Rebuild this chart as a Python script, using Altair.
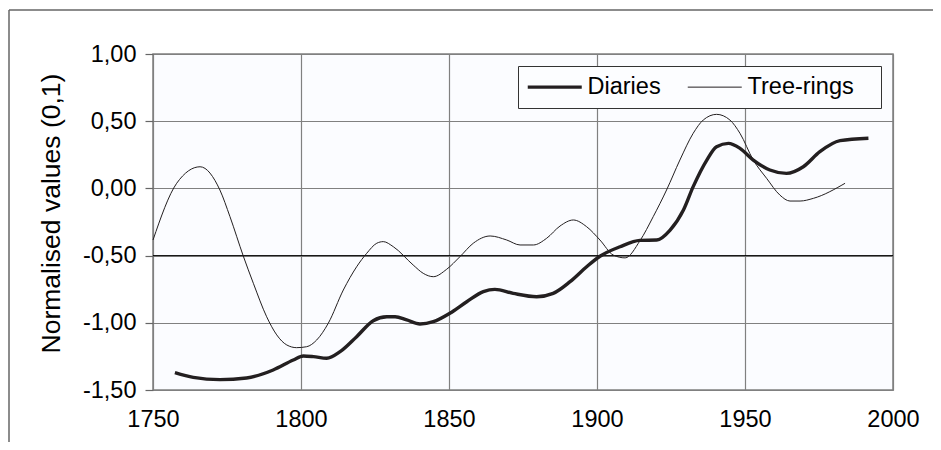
import altair as alt
import pandas as pd

diaries_year = [1757.4, 1763.6, 1772.6, 1781.6, 1790.6, 1797.4, 1800.8, 1804.2, 1808.7, 1813.2,
                1818.8, 1824.4, 1829.0, 1831.8, 1835.7, 1840.2, 1844.7, 1850.3, 1856.0, 1861.6,
                1865.5, 1871.7, 1879.6, 1885.2, 1890.9, 1896.5, 1901.0, 1907.8, 1914.5, 1920.2,
                1924.7, 1929.2, 1932.5, 1937.1, 1940.4, 1944.4, 1948.3, 1952.8, 1958.4, 1964.0,
                1969.7, 1975.3, 1982.1, 1991.7]
diaries_val = [-1.371, -1.406, -1.423, -1.411, -1.351, -1.277, -1.247, -1.252, -1.264, -1.215,
               -1.103, -0.984, -0.955, -0.955, -0.979, -1.009, -0.992, -0.929, -0.843, -0.768,
               -0.751, -0.781, -0.806, -0.781, -0.694, -0.583, -0.505, -0.434, -0.387, -0.384,
               -0.310, -0.161, 0.013, 0.211, 0.310, 0.335, 0.298, 0.211, 0.137, 0.112,
               0.161, 0.273, 0.355, 0.373]

tree_year = [1750.0, 1758.0, 1765.9, 1772.6, 1776.0, 1780.5, 1783.9, 1788.4, 1791.8, 1795.2,
             1798.5, 1801.9, 1805.3, 1809.2, 1814.3, 1818.8, 1822.2, 1825.6, 1827.8, 1831.2,
             1837.9, 1841.3, 1844.7, 1849.2, 1853.7, 1858.2, 1863.9, 1869.5, 1874.0, 1878.5,
             1883.0, 1887.5, 1892.0, 1896.5, 1901.0, 1905.5, 1909.5, 1914.5, 1919.0, 1923.5,
             1928.0, 1932.5, 1935.9, 1940.4, 1944.9, 1948.3, 1952.8, 1957.3, 1961.8, 1965.2,
             1968.6, 1973.1, 1983.8]
tree_val = [-0.384, 0.038, 0.161, -0.012, -0.210, -0.503, -0.706, -0.955, -1.090, -1.165,
            -1.185, -1.178, -1.128, -1.004, -0.756, -0.583, -0.483, -0.408, -0.396, -0.434,
            -0.570, -0.632, -0.657, -0.602, -0.508, -0.408, -0.354, -0.384, -0.421, -0.421,
            -0.371, -0.280, -0.235, -0.285, -0.384, -0.496, -0.517, -0.390, -0.210, -0.012,
            0.211, 0.410, 0.509, 0.551, 0.509, 0.410, 0.211, 0.075, -0.050, -0.094,
            -0.094, -0.074, 0.038]

series_names = ["Diaries", "Tree-rings"]
x_ticks = [1750, 1800, 1850, 1900, 1950, 2000]
y_ticks = [-1.5, -1.0, -0.5, 0.0, 0.5, 1.0]

df = pd.concat([
    pd.DataFrame({"year": diaries_year, "value": diaries_val, "series": series_names[0]}),
    pd.DataFrame({"year": tree_year, "value": tree_val, "series": series_names[1]}),
])

FONT = "Liberation Sans"
GRID = "#808080"
INK = "#231f20"

x = alt.X("year:Q", scale=alt.Scale(domain=[1750, 2000], nice=False), title=None,
          axis=alt.Axis(values=x_ticks, format="d", grid=True, gridColor=GRID, gridWidth=1.2,
                        ticks=False, domain=False, labelPadding=17, labelFontSize=23.5,
                        labelFont=FONT, labelColor="black", labelFlush=False))
y = alt.Y("value:Q", scale=alt.Scale(domain=[-1.5, 1.0], nice=False, zero=False),
          title="Normalised values (0,1)",
          axis=alt.Axis(values=y_ticks, grid=True, gridColor=GRID, gridWidth=1.2,
                        labelExpr="(datum.value < 0 ? '-' : '') + replace(format(abs(datum.value), '.2f'), '.', ',')",
                        tickSize=8, tickColor="#666666", tickWidth=1.2, domain=False,
                        labelPadding=9, labelFontSize=23.5, labelFont=FONT, labelColor="black",
                        titleFontSize=26.5, titleFont=FONT, titleFontWeight="normal", titleColor="black",
                        titleAngle=270, titleX=-102, titleY=159, titleAlign="center",
                        titleBaseline="middle"))

lines = alt.Chart(df).mark_line(interpolate="monotone", color=INK).encode(
    x=x, y=y,
    strokeWidth=alt.StrokeWidth("series:N",
        scale=alt.Scale(domain=series_names, range=[3.4, 1.0]),
        legend=alt.Legend(title=None, orient="none", legendX=365, legendY=12,
                          direction="horizontal", symbolType="M-3,0H3", symbolSize=324,
                          symbolStrokeColor=INK, symbolFillColor="transparent",
                          symbolOffset=16, labelOffset=21,
                          labelFontSize=23.5, labelFont=FONT, labelColor="black",
                          labelExpr="datum.label == 'Tree-rings' ? 'Tree-rings\u2800' : datum.label",
                          columnPadding=24, padding=9, strokeColor="#333333",
                          fillColor="#fcfdff", labelLimit=300)),
)

rule_df = pd.DataFrame({"v": [-0.5]})
black_rule = alt.Chart(rule_df).mark_rule(color="black", strokeWidth=1).encode(
    y=alt.Y("v:Q"))

frame_top = alt.Chart(rule_df).mark_rule(color="#666666", strokeWidth=1.5).encode(
    x=alt.value(-144), x2=alt.value(790), y=alt.value(-44))
frame_left = alt.Chart(rule_df).mark_rule(color="#666666", strokeWidth=1.5).encode(
    x=alt.value(-144), y=alt.value(-44), y2=alt.value(400))

chart = alt.layer(black_rule, lines, frame_top, frame_left).properties(
    width=740, height=336,
    autosize=alt.AutoSizeParams(type="none"),
    padding={"left": 145, "top": 46, "right": 40, "bottom": 52},
    background="white",
).configure_view(stroke=GRID, strokeWidth=1.5, fill="#fbfcff")

chart.save("out.html", embed_options={"renderer": "svg", "actions": False})
